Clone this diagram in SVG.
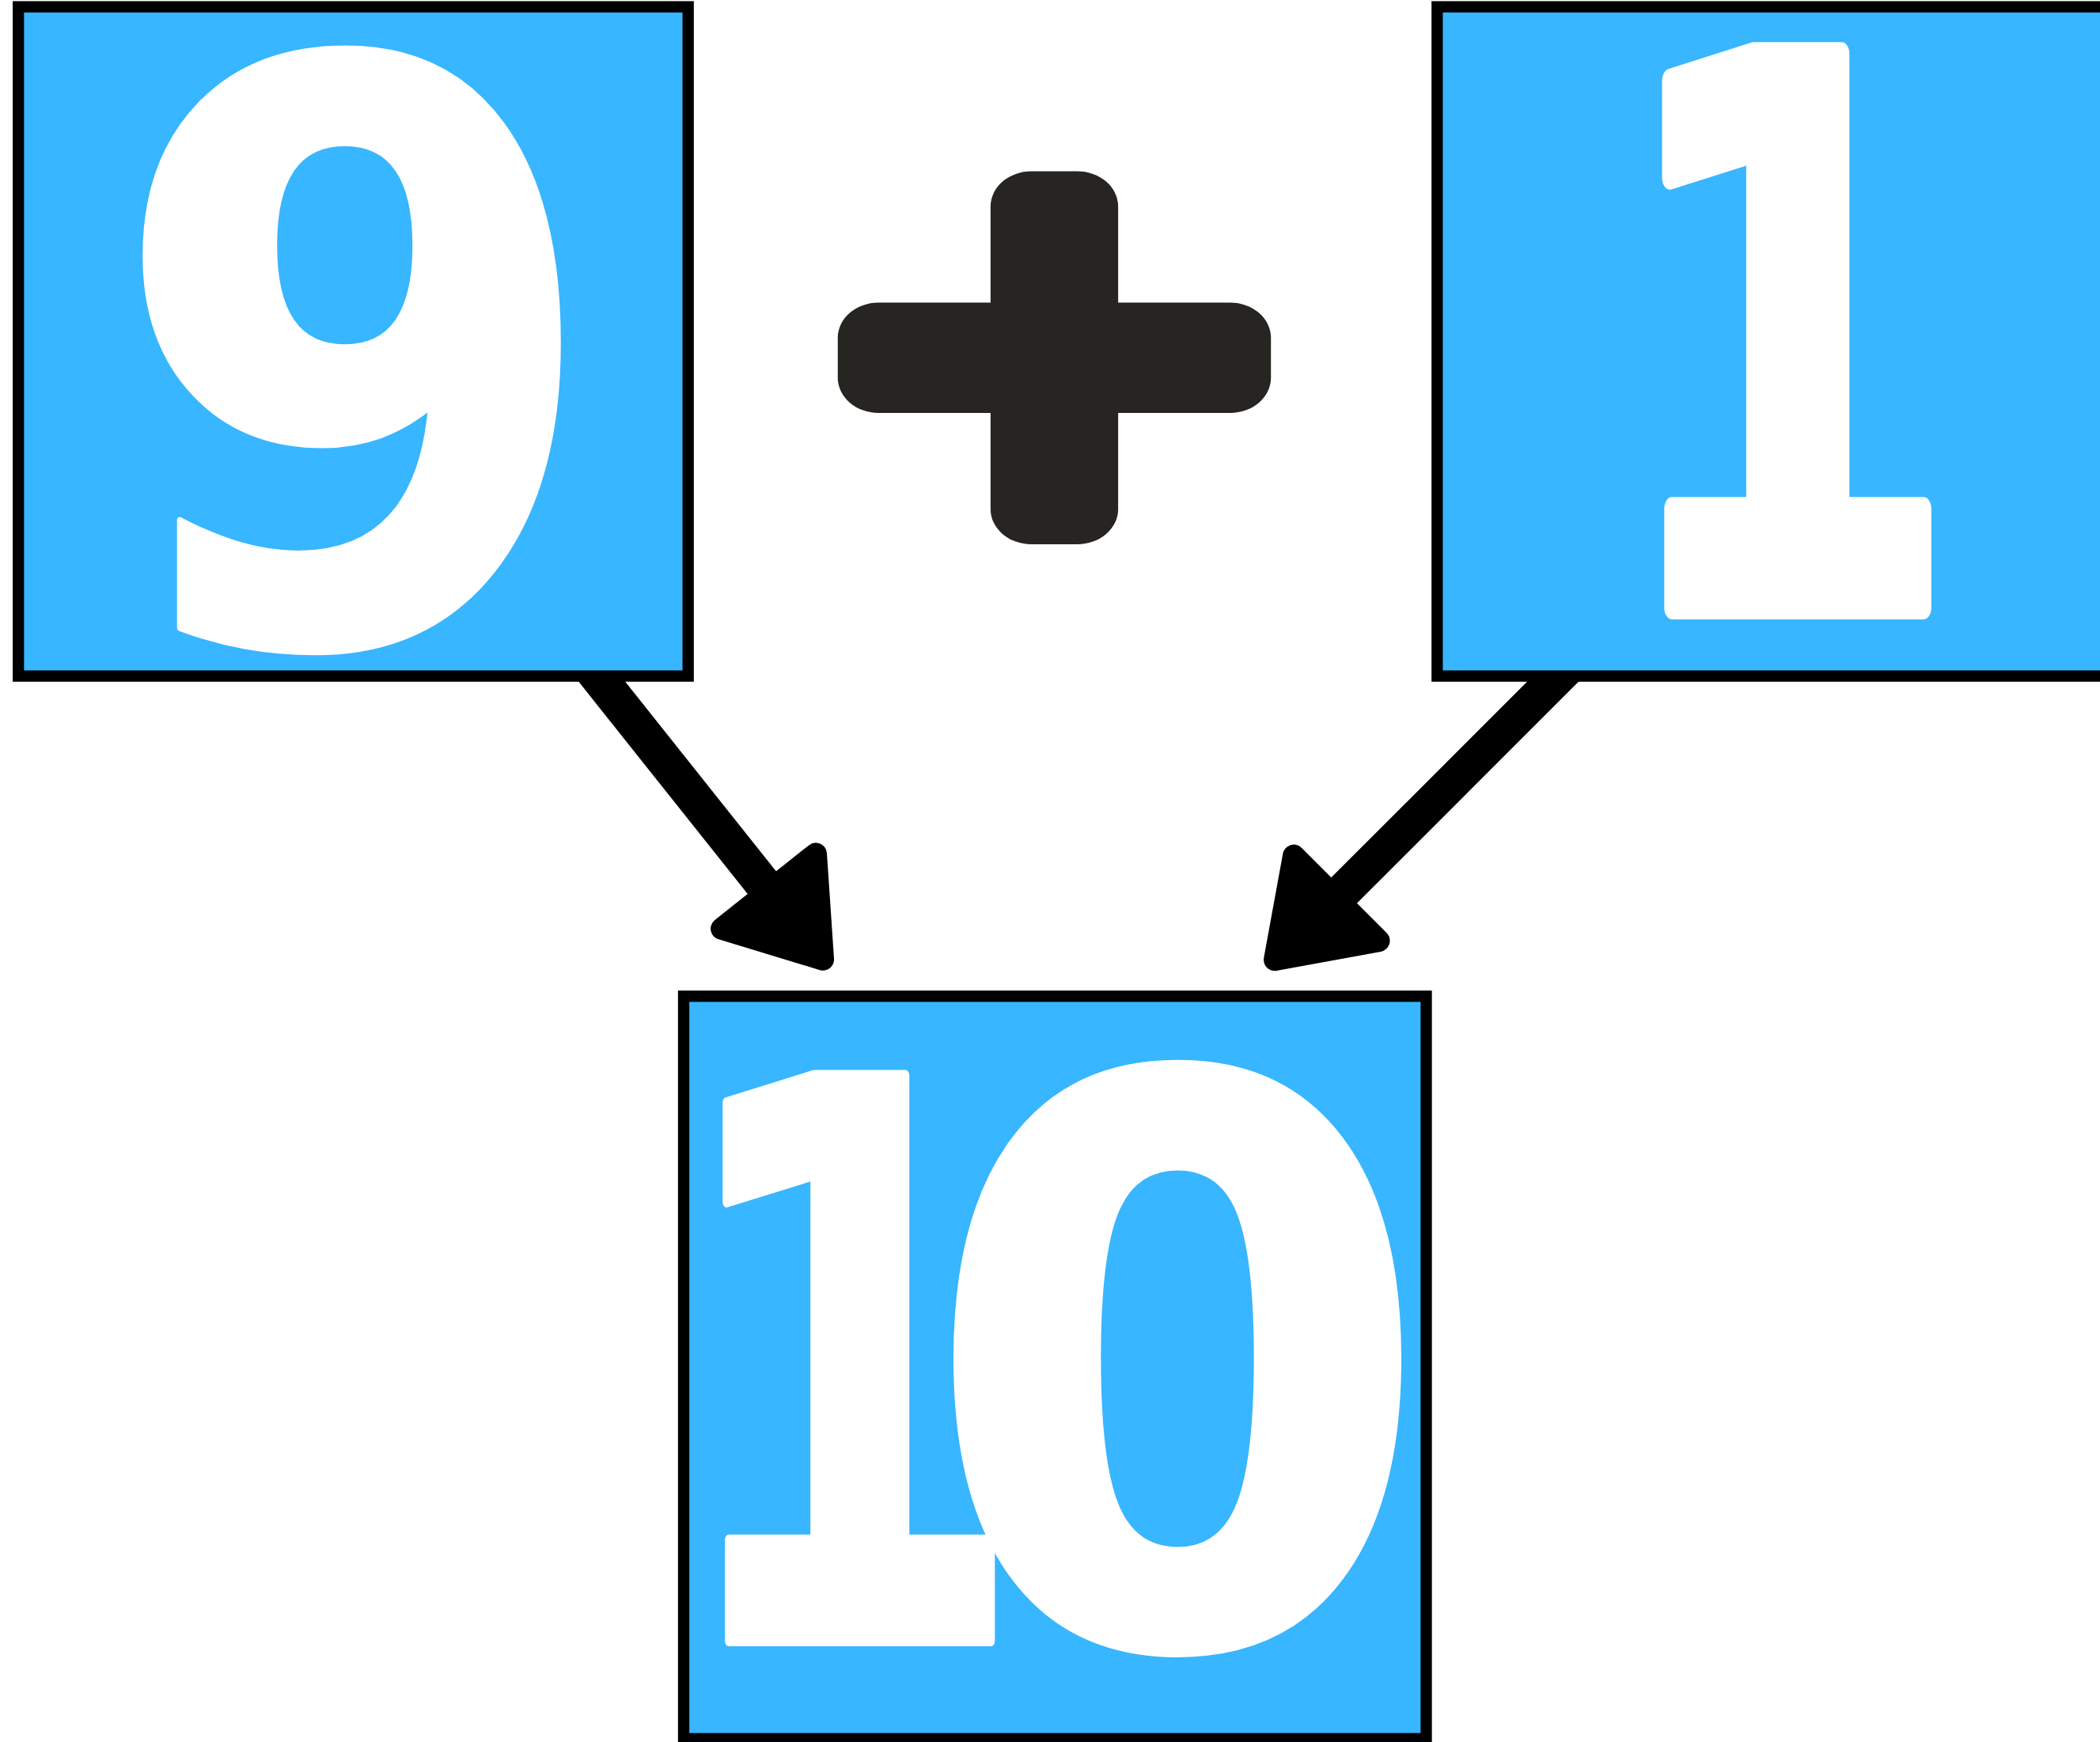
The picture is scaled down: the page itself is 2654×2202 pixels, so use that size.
<svg xmlns="http://www.w3.org/2000/svg" width="2654" height="2202" viewBox="0 0 2654 2202">
<style>
.box{fill:#38b6ff;stroke:#000;stroke-width:14.3}
.digit{font-family:"DejaVu Sans",sans-serif;font-weight:bold;fill:#fff;stroke:#fff;stroke-linejoin:round;text-anchor:middle}
.op{font-family:"DejaVu Sans",sans-serif;font-weight:normal;font-size:710px;fill:#262521;stroke:#262521;stroke-width:103;stroke-linejoin:round;text-anchor:middle}
.edge{stroke:#000;stroke-width:46;fill:none;marker-end:url(#head)}
</style>
<defs>
<marker id="head" markerUnits="userSpaceOnUse" orient="auto" refX="61.4" refY="0" markerWidth="300" markerHeight="300" overflow="visible">
<path d="M0,-76 L110,0 L0,76 Z" fill="#000" stroke="#000" stroke-width="28" stroke-linejoin="round"/>
</marker>
</defs>
<rect width="2654" height="2202" fill="#fff"/>
<g id="connectors">
<line class="edge" x1="723.4" y1="814.7" x2="1009.8" y2="1174.7"/>
<line class="edge" x1="2004.9" y1="819.3" x2="1645.4" y2="1178.8"/>
</g>
<g id="node-9">
<rect class="box" x="23.2" y="8.6" width="846.5" height="846"/>
<text class="digit" transform="translate(450,0) scale(0.89,1)" x="0" y="810" font-size="1010" stroke-width="8">9</text>
</g>
<g id="node-1">
<rect class="box" x="1816.3" y="8.6" width="846" height="846"/>
<text class="digit" transform="translate(2257,0) scale(0.65,1)" x="0" y="768" font-size="960" stroke-width="30">1</text>
</g>
<g id="plus">
<text class="op" transform="translate(1332.5,451) scale(1,0.86)" x="0" y="224">+</text>
</g>
<g id="node-10">
<rect class="box" x="864" y="1259.3" width="938.5" height="938.5"/>
<text class="digit" y="2074" font-size="980" stroke-width="14"><tspan x="1071" textLength="453" lengthAdjust="spacingAndGlyphs">1</tspan><tspan x="1488" textLength="641" lengthAdjust="spacingAndGlyphs">0</tspan></text>
</g>
</svg>
